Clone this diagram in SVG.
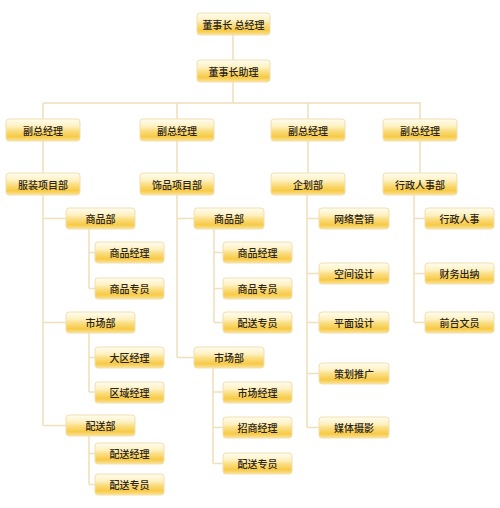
<svg xmlns="http://www.w3.org/2000/svg" width="500" height="508" viewBox="0 0 500 508">
<defs>
<linearGradient id="g" x1="0" y1="0" x2="0" y2="1">
<stop offset="0" stop-color="#fffdf2"/>
<stop offset="0.35" stop-color="#fdf0bd"/>
<stop offset="0.5" stop-color="#fbe08a"/>
<stop offset="0.8" stop-color="#f7ca45"/>
<stop offset="1" stop-color="#fbe39c"/>
</linearGradient>
<style>
.box{fill:url(#g);stroke:#f1dfb0;stroke-width:1}
text{font-family:"Noto Sans CJK SC","Noto Sans",sans-serif;font-size:10px;fill:#2a2418;text-anchor:middle;dominant-baseline:central;font-weight:500}
.c{fill:none;stroke:#f0e0bb;stroke-width:1.5}
</style>
</defs>
<rect width="500" height="508" fill="#ffffff"/>
<g id="connectors" class="c">
<path d="M233,35V60M233,82V103M43,103H421M43,103V119M177,103V119M308,103V119M420,103V119"/>
<path d="M43,141V173M177,141V173M308,141V173M420,141V173"/>
<path d="M43,195V425.5M43,218.5H66M43,322.5H66M43,425.5H66"/>
<path d="M89,229V288.5M89,252.5H95M89,288.5H95"/>
<path d="M89,333V392M89,357.5H95M89,392H95"/>
<path d="M89,436V484.5M89,453.5H95M89,484.5H95"/>
<path d="M177,195V357.5M177,218.5H194M177,357.5H194"/>
<path d="M214,229V322.5M214,252.5H223M214,288.5H223M214,322.5H223"/>
<path d="M213,368V463.5M213,392H223M213,427.5H223M213,463.5H223"/>
<path d="M307,195V427.5M307,218.5H319M307,273.5H319M307,322.5H319M307,373.5H319M307,427.5H319"/>
<path d="M414,195V322.5M414,218.5H425M414,273.5H425M414,322.5H425"/>
</g>
<g id="n-ceo"><rect class="box" x="197" y="13" width="73" height="22" rx="3"/><text x="233.5" y="24">董事长 总经理</text></g>
<g id="n-assistant"><rect class="box" x="197" y="60" width="73" height="22" rx="3"/><text x="233.5" y="71">董事长助理</text></g>
<g id="n-vp1"><rect class="box" x="6" y="119" width="74" height="22" rx="3"/><text x="43" y="130">副总经理</text></g>
<g id="n-vp2"><rect class="box" x="140" y="119" width="74" height="22" rx="3"/><text x="177" y="130">副总经理</text></g>
<g id="n-vp3"><rect class="box" x="271" y="119" width="74" height="22" rx="3"/><text x="308" y="130">副总经理</text></g>
<g id="n-vp4"><rect class="box" x="383" y="119" width="74" height="22" rx="3"/><text x="420" y="130">副总经理</text></g>
<g id="n-fz"><rect class="box" x="6" y="173" width="74" height="22" rx="3"/><text x="43" y="184">服装项目部</text></g>
<g id="n-sp"><rect class="box" x="140" y="173" width="74" height="22" rx="3"/><text x="177" y="184">饰品项目部</text></g>
<g id="n-qh"><rect class="box" x="271" y="173" width="74" height="22" rx="3"/><text x="308" y="184">企划部</text></g>
<g id="n-xz"><rect class="box" x="383" y="173" width="74" height="22" rx="3"/><text x="420" y="184">行政人事部</text></g>
<g id="n-fz-sp"><rect class="box" x="66" y="208" width="69" height="21" rx="3"/><text x="100.5" y="218.5">商品部</text></g>
<g id="n-fz-sp1"><rect class="box" x="95" y="242" width="69" height="21" rx="3"/><text x="129.5" y="252.5">商品经理</text></g>
<g id="n-fz-sp2"><rect class="box" x="95" y="278" width="69" height="21" rx="3"/><text x="129.5" y="288.5">商品专员</text></g>
<g id="n-fz-sc"><rect class="box" x="66" y="312" width="69" height="21" rx="3"/><text x="100.5" y="322.5">市场部</text></g>
<g id="n-fz-sc1"><rect class="box" x="95" y="347" width="69" height="21" rx="3"/><text x="129.5" y="357.5">大区经理</text></g>
<g id="n-fz-sc2"><rect class="box" x="95" y="382" width="69" height="21" rx="3"/><text x="129.5" y="392.5">区域经理</text></g>
<g id="n-fz-ps"><rect class="box" x="66" y="415" width="69" height="21" rx="3"/><text x="100.5" y="425.5">配送部</text></g>
<g id="n-fz-ps1"><rect class="box" x="95" y="443" width="69" height="21" rx="3"/><text x="129.5" y="453.5">配送经理</text></g>
<g id="n-fz-ps2"><rect class="box" x="95" y="474" width="69" height="21" rx="3"/><text x="129.5" y="484.5">配送专员</text></g>
<g id="n-sp-sp"><rect class="box" x="194" y="208" width="70" height="21" rx="3"/><text x="229" y="218.5">商品部</text></g>
<g id="n-sp-sp1"><rect class="box" x="223" y="242" width="69" height="21" rx="3"/><text x="257.5" y="252.5">商品经理</text></g>
<g id="n-sp-sp2"><rect class="box" x="223" y="278" width="69" height="21" rx="3"/><text x="257.5" y="288.5">商品专员</text></g>
<g id="n-sp-sp3"><rect class="box" x="223" y="312" width="69" height="21" rx="3"/><text x="257.5" y="322.5">配送专员</text></g>
<g id="n-sp-sc"><rect class="box" x="194" y="347" width="70" height="21" rx="3"/><text x="229" y="357.5">市场部</text></g>
<g id="n-sp-sc1"><rect class="box" x="223" y="382" width="69" height="21" rx="3"/><text x="257.5" y="392.5">市场经理</text></g>
<g id="n-sp-sc2"><rect class="box" x="223" y="417" width="69" height="21" rx="3"/><text x="257.5" y="427.5">招商经理</text></g>
<g id="n-sp-sc3"><rect class="box" x="223" y="453" width="69" height="21" rx="3"/><text x="257.5" y="463.5">配送专员</text></g>
<g id="n-qh1"><rect class="box" x="319" y="208" width="70" height="21" rx="3"/><text x="354" y="218.5">网络营销</text></g>
<g id="n-qh2"><rect class="box" x="319" y="263" width="70" height="21" rx="3"/><text x="354" y="273.5">空间设计</text></g>
<g id="n-qh3"><rect class="box" x="319" y="312" width="70" height="21" rx="3"/><text x="354" y="322.5">平面设计</text></g>
<g id="n-qh4"><rect class="box" x="319" y="363" width="70" height="21" rx="3"/><text x="354" y="373.5">策划推广</text></g>
<g id="n-qh5"><rect class="box" x="319" y="417" width="70" height="21" rx="3"/><text x="354" y="427.5">媒体摄影</text></g>
<g id="n-xz1"><rect class="box" x="425" y="208" width="69" height="21" rx="3"/><text x="459.5" y="218.5">行政人事</text></g>
<g id="n-xz2"><rect class="box" x="425" y="263" width="69" height="21" rx="3"/><text x="459.5" y="273.5">财务出纳</text></g>
<g id="n-xz3"><rect class="box" x="425" y="312" width="69" height="21" rx="3"/><text x="459.5" y="322.5">前台文员</text></g>
</svg>
